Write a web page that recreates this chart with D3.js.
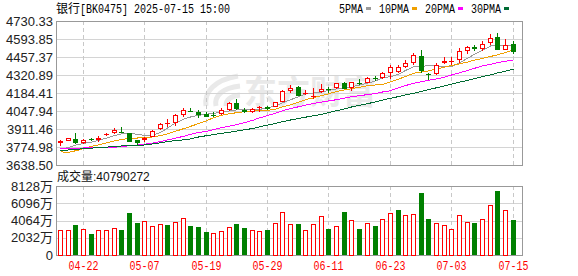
<!DOCTYPE html>
<html>
<head>
<meta charset="utf-8">
<script src="https://cdn.jsdelivr.net/npm/d3@7"></script>
<style>
  body { margin: 0; background: #fff; }
  svg { display: block; }
  .date-label { fill: #ff0000; }
</style>
</head>
<body>
<div id="chart"></div>
<script>
// trading days 2025-04-17 .. 2025-07-15
const dates = [
  '04-17', '04-18', '04-21', '04-22', '04-23', '04-24', '04-25', '04-28', '04-29', '04-30',
  '05-06', '05-07', '05-08', '05-09', '05-12', '05-13', '05-14', '05-15', '05-16', '05-19',
  '05-20', '05-21', '05-22', '05-23', '05-26', '05-27', '05-28', '05-29', '05-30', '06-03',
  '06-04', '06-05', '06-06', '06-09', '06-10', '06-11', '06-12', '06-13', '06-16', '06-17',
  '06-18', '06-19', '06-20', '06-23', '06-24', '06-25', '06-26', '06-27', '06-30', '07-01',
  '07-02', '07-03', '07-04', '07-07', '07-08', '07-09', '07-10', '07-11', '07-14', '07-15',
];
const open = [
  3803.0, 3820.5, 3833.4, 3805.3, 3835.7, 3825.8, 3866.0, 3878.8, 3891.0, 3878.8,
  3828.1, 3828.1, 3853.1, 3909.2, 3950.1, 3959.2, 4017.6, 4044.2, 4042.7, 4023.0,
  4019.1, 4025.2, 4055.5, 4106.3, 4055.5, 4038.1, 4071.4, 4080.5, 4080.5, 4118.4,
  4201.9, 4232.2, 4185.2, 4159.4, 4194.3, 4214.0, 4220.1, 4262.5, 4220.1, 4264.0,
  4262.5, 4297.4, 4295.9, 4333.8, 4341.4, 4379.3, 4409.6, 4462.7, 4324.7, 4328.5,
  4409.6, 4423.2, 4432.4, 4505.2, 4530.9, 4518.1, 4563.5, 4606.7, 4512.7, 4555.9,
];
const close = [
  3818.2, 3840.9, 3805.3, 3830.4, 3825.8, 3845.5, 3871.3, 3903.9, 3887.2, 3815.2,
  3803.0, 3845.5, 3896.3, 3951.7, 3953.2, 4017.6, 4055.5, 4040.4, 4017.6, 4004.7,
  4015.3, 4055.5, 4106.3, 4060.8, 4038.1, 4060.8, 4074.5, 4063.1, 4113.9, 4199.6,
  4224.6, 4161.7, 4188.2, 4161.7, 4212.5, 4211.0, 4258.0, 4214.8, 4265.5, 4260.2,
  4300.4, 4294.4, 4338.4, 4383.9, 4383.9, 4414.2, 4470.3, 4349.0, 4320.9, 4394.5,
  4427.0, 4426.3, 4500.6, 4530.9, 4520.3, 4555.9, 4601.4, 4512.7, 4550.6, 4493.0,
];
const high = [
  3824.3, 3847.0, 3883.4, 3835.7, 3840.9, 3858.4, 3878.8, 3916.8, 3924.4, 3881.2,
  3831.8, 3853.1, 3906.2, 3957.0, 3985.0, 4025.2, 4068.4, 4068.4, 4055.5, 4042.7,
  4042.7, 4068.4, 4112.4, 4136.6, 4073.0, 4068.4, 4085.9, 4089.6, 4118.4, 4207.2,
  4245.1, 4237.5, 4207.2, 4220.1, 4252.7, 4232.2, 4264.0, 4267.8, 4271.6, 4288.3,
  4305.7, 4313.3, 4343.7, 4396.8, 4396.8, 4434.7, 4485.5, 4512.7, 4336.1, 4411.9,
  4455.1, 4455.1, 4525.6, 4537.0, 4550.6, 4576.4, 4631.8, 4639.3, 4593.8, 4576.4,
];
const low = [
  3782.5, 3816.7, 3801.5, 3801.5, 3822.0, 3810.6, 3856.1, 3871.3, 3883.4, 3812.9,
  3790.2, 3815.2, 3850.8, 3903.9, 3928.9, 3934.2, 4000.2, 4038.1, 3992.6, 4000.2,
  4000.2, 4017.6, 4051.7, 4057.0, 4030.5, 4030.5, 4038.1, 4059.3, 4076.7, 4114.7,
  4182.1, 4157.9, 4169.3, 4136.6, 4182.1, 4186.7, 4216.3, 4211.0, 4201.9, 4245.1,
  4258.0, 4277.7, 4292.1, 4290.6, 4333.8, 4371.7, 4396.8, 4336.1, 4285.3, 4323.2,
  4405.8, 4399.0, 4411.9, 4480.2, 4500.6, 4505.2, 4550.6, 4510.4, 4508.9, 4480.2,
];
const ma5 = [
  3760.6, 3769.7, 3789.4, 3802.3, 3812.1, 3825.0, 3842.5, 3861.4, 3874.3, 3877.4,
  3872.1, 3863.0, 3864.5, 3885.7, 3918.3, 3957.0, 3985.8, 4002.4, 4014.6, 4023.7,
  4029.7, 4038.8, 4047.9, 4056.3, 4059.3, 4059.3, 4060.0, 4072.2, 4086.6, 4110.1,
  4132.9, 4156.4, 4177.6, 4184.4, 4192.8, 4203.4, 4214.8, 4224.6, 4232.2, 4243.6,
  4258.7, 4276.2, 4298.9, 4308.8, 4325.5, 4355.0, 4383.9, 4387.6, 4390.7, 4388.4,
  4385.4, 4383.9, 4411.9, 4448.3, 4477.1, 4507.4, 4540.8, 4540.8, 4541.5, 4543.0,
];
const ma10 = [
  3738.6, 3734.1, 3746.2, 3762.1, 3779.5, 3790.9, 3806.1, 3820.5, 3833.4, 3838.7,
  3843.2, 3847.0, 3850.8, 3861.4, 3874.3, 3894.0, 3913.7, 3931.2, 3952.4, 3974.4,
  3996.4, 4016.1, 4026.7, 4035.1, 4042.7, 4048.7, 4049.5, 4052.5, 4061.6, 4079.0,
  4095.0, 4114.7, 4133.6, 4148.0, 4164.7, 4178.4, 4195.0, 4207.9, 4217.0, 4227.7,
  4239.8, 4245.1, 4248.1, 4269.4, 4289.8, 4309.5, 4333.8, 4342.9, 4352.0, 4366.4,
  4380.8, 4393.7, 4405.1, 4418.7, 4433.9, 4446.8, 4461.2, 4474.1, 4491.5, 4510.5,
];
const ma20 = [
  3765.2, 3765.9, 3766.6, 3767.4, 3768.2, 3768.9, 3769.7, 3772.7, 3778.8, 3784.1,
  3789.4, 3796.2, 3804.6, 3816.0, 3828.1, 3841.7, 3856.1, 3870.5, 3884.9, 3893.3,
  3906.9, 3921.3, 3933.4, 3944.9, 3959.2, 3976.7, 3995.6, 4013.1, 4031.3, 4049.5,
  4066.9, 4079.8, 4092.7, 4104.8, 4115.4, 4124.5, 4133.6, 4145.7, 4156.4, 4164.0,
  4172.3, 4180.6, 4192.0, 4201.9, 4223.9, 4240.5, 4258.0, 4269.4, 4280.7, 4291.3,
  4304.2, 4320.9, 4337.6, 4354.3, 4371.7, 4389.9, 4402.1, 4415.0, 4424.8, 4434.7,
];
const ma30 = [
  3746.9, 3752.3, 3756.8, 3762.1, 3766.6, 3770.4, 3774.2, 3778.0, 3782.6, 3784.9,
  3787.9, 3790.2, 3797.8, 3806.9, 3816.7, 3823.5, 3828.8, 3836.4, 3850.8, 3860.7,
  3869.0, 3878.9, 3887.2, 3895.6, 3906.2, 3914.5, 3927.4, 3941.1, 3954.0, 3966.8,
  3979.7, 3990.4, 4001.0, 4011.6, 4022.2, 4035.8, 4050.2, 4063.9, 4078.3, 4090.4,
  4103.3, 4117.0, 4130.6, 4144.3, 4157.2, 4170.0, 4182.2, 4195.8, 4210.2, 4223.9,
  4238.3, 4251.9, 4266.3, 4280.0, 4294.4, 4308.0, 4322.4, 4336.1, 4350.5, 4364.1,
];
// volume in 万 (10k)
const volume = [
  2945, 2945, 3534, 3027, 2474, 2945, 2945, 3141, 2945, 4986,
  3809, 4005, 3416, 3652, 3534, 3887, 4319, 3416, 3298, 2749,
  2592, 2827, 3298, 3652, 3181, 2945, 2827, 2945, 3770, 5065,
  3652, 3652, 2945, 3652, 4594, 3063, 3416, 5065, 4123, 3063,
  3730, 3416, 4201, 4908, 5301, 4712, 4830, 7343, 4241, 3770,
  3534, 3063, 4712, 3887, 3809, 4241, 5890, 7579, 5301, 4079.0272,
];
// 1 = red bar, -1 = green bar
const volDir = [
  1, 1, -1, 1, -1, 1, 1, 1, -1, -1,
  -1, 1, 1, 1, -1, 1, 1, -1, -1, -1,
  1, 1, 1, -1, -1, 1, 1, -1, 1, 1,
  1, -1, 1, 1, 1, -1, 1, -1, 1, -1,
  1, -1, 1, 1, -1, 1, 1, -1, -1, 1,
  1, 1, 1, 1, -1, 1, 1, -1, 1, -1,
];
const priceTicks = [3638.50, 3774.98, 3911.46, 4047.94, 4184.41, 4320.89, 4457.37, 4593.85, 4730.33];
const volTicks = [0, 2032, 4064, 6096, 8128];
const dateTicks = ['04-22', '05-07', '05-19', '05-29', '06-11', '06-23', '07-03', '07-15'];
const maNames = ['5PMA', '10PMA', '20PMA', '30PMA'];
const maSeries = [ma5, ma10, ma20, ma30];

const W = 578;
const H = 276;
const plotL = 56;
const plotR = 522;
const priceTop = 21;
const priceBottom = 165;
const volTop = 186;
const volBottom = 255;

const UP = '#ff0000';
const DOWN = '#008000';
const GRID = '#d4d4d4';
const FRAME = '#999999';
const maColors = ['#9a9a9a', '#f0a000', '#ff00ff', '#006b33'];
const MONO = "'Liberation Mono', monospace";
const SANS = "'Liberation Sans', 'Noto Sans CJK SC', sans-serif";

const svg = d3.select('#chart')
  .append('svg')
  .attr('width', W)
  .attr('height', H);

const x = d3.scaleBand().domain(dates).range([56.7, 516.9]);
const cx = (i) => Math.floor(x(dates[i]) + x.bandwidth() / 2) + 0.5;
const y = d3.scaleLinear().domain([3638.50, 4730.33]).range([priceBottom, priceTop]);
const yv = d3.scaleLinear().domain([0, 8128]).range([volBottom, volTop]);
const px = (v) => Math.round(v) + 0.5;

// watermark
const wm = svg.append('g').attr('fill', 'none').attr('stroke', '#e9e9e9').attr('stroke-width', 5);
wm.append('path').attr('d', 'M206,106 C204,92 214,80 238,76');
wm.append('path').attr('d', 'M216,106 C214,96 222,88 240,86');
wm.append('path').attr('d', 'M226,106 C226,100 230,96 240,95');
svg.append('text')
  .attr('x', 244)
  .attr('y', 104)
  .attr('font-family', "'Noto Sans CJK SC'")
  .attr('font-weight', 'bold')
  .attr('font-size', 33)
  .attr('fill', '#e9e9e9')
  .text('东方财富');

// grids and frames
const drawPanel = (scale, ticks, top, bottom) => {
  const g = svg.append('g').attr('shape-rendering', 'crispEdges');
  g.selectAll('line.h')
    .data(ticks.slice(1, -1))
    .enter()
    .append('line')
    .attr('x1', plotL)
    .attr('x2', plotR)
    .attr('y1', (d) => px(scale(d)))
    .attr('y2', (d) => px(scale(d)))
    .attr('stroke', GRID);
  g.selectAll('line.v')
    .data(dateTicks)
    .enter()
    .append('line')
    .attr('x1', (d) => cx(dates.indexOf(d)))
    .attr('x2', (d) => cx(dates.indexOf(d)))
    .attr('y1', top)
    .attr('y2', bottom)
    .attr('stroke', '#c8c8c8')
    .attr('stroke-dasharray', '4,3');
  g.append('rect')
    .attr('x', plotL + 0.5)
    .attr('y', top + 0.5)
    .attr('width', plotR - plotL)
    .attr('height', bottom - top)
    .attr('fill', 'none')
    .attr('stroke', FRAME);
};
drawPanel(y, priceTicks, priceTop, priceBottom);
drawPanel(yv, volTicks, volTop, volBottom);

// moving averages (under the candles)
const line = d3.line().x((v, i) => cx(i)).y((v) => y(v));
svg.append('g')
  .attr('shape-rendering', 'crispEdges')
  .selectAll('path')
  .data(maSeries)
  .enter()
  .append('path')
  .attr('d', line)
  .attr('fill', 'none')
  .attr('stroke', (d, i) => maColors[i])
  .attr('stroke-width', 1);

// candles
const candles = svg.append('g').attr('shape-rendering', 'crispEdges');
candles.selectAll('g')
  .data(d3.range(dates.length))
  .enter()
  .append('g')
  .each(function (i) {
    const g = d3.select(this);
    const up = close[i] >= open[i];
    const col = up ? UP : DOWN;
    const c = cx(i);
    const top = Math.round(y(Math.max(open[i], close[i])));
    const bot = Math.round(y(Math.min(open[i], close[i])));
    g.append('line')
      .attr('x1', c).attr('x2', c)
      .attr('y1', Math.round(y(high[i])))
      .attr('y2', Math.round(y(low[i])))
      .attr('stroke', col);
    if (bot - top < 2) {
      g.append('line')
        .attr('x1', c - 2.5).attr('x2', c + 2.5)
        .attr('y1', top + 0.5).attr('y2', top + 0.5)
        .attr('stroke', col);
    } else if (up) {
      g.append('rect')
        .attr('x', c - 2).attr('y', top + 0.5)
        .attr('width', 4).attr('height', bot - top - 1)
        .attr('fill', '#fff')
        .attr('stroke', col);
    } else {
      g.append('rect')
        .attr('x', c - 2.5).attr('y', top)
        .attr('width', 5).attr('height', bot - top)
        .attr('fill', col);
    }
  });

// volume bars
svg.append('g')
  .attr('shape-rendering', 'crispEdges')
  .selectAll('rect')
  .data(volume)
  .enter()
  .append('rect')
  .attr('x', (d, i) => (volDir[i] > 0 ? cx(i) - 2 : cx(i) - 2.5))
  .attr('y', (d, i) => (volDir[i] > 0 ? Math.round(yv(d)) + 0.5 : Math.round(yv(d))))
  .attr('width', (d, i) => (volDir[i] > 0 ? 4 : 5))
  .attr('height', (d, i) => volBottom - Math.round(yv(d)) - (volDir[i] > 0 ? 0.5 : 0))
  .attr('fill', (d, i) => (volDir[i] > 0 ? '#fff' : DOWN))
  .attr('stroke', (d, i) => (volDir[i] > 0 ? UP : 'none'));

// axes
const styleAxis = (g) => {
  g.select('.domain').remove();
  g.attr('color', '#222');
  g.selectAll('text')
    .attr('font-family', SANS)
    .attr('font-size', 13)
    .attr('fill', '#222');
};
svg.append('g')
  .attr('transform', `translate(${plotL},0)`)
  .call(d3.axisLeft(y).tickValues(priceTicks).tickSize(0).tickPadding(3).tickFormat(d3.format('.2f')))
  .call(styleAxis);
svg.append('g')
  .attr('transform', `translate(${plotL},0)`)
  .call(d3.axisLeft(yv).tickValues(volTicks).tickSize(0).tickPadding(3).tickFormat((d) => (d === 0 ? '0' : `${d}万`)))
  .call(styleAxis);

// date labels in red under the volume panel
svg.append('g')
  .selectAll('text')
  .data(dateTicks)
  .enter()
  .append('text')
  .attr('class', 'date-label')
  .attr('x', (d) => cx(dates.indexOf(d)))
  .attr('y', 270)
  .attr('text-anchor', 'middle')
  .attr('font-family', MONO)
  .attr('font-size', 12)
  .attr('fill', UP)
  .attr('textLength', 30)
  .attr('lengthAdjust', 'spacingAndGlyphs')
  .text((d) => d);

// title
svg.append('text')
  .attr('x', 56)
  .attr('y', 13)
  .attr('font-family', "'Noto Sans CJK SC'")
  .attr('font-size', 12)
  .text('银行');
svg.append('text')
  .attr('x', 80)
  .attr('y', 13)
  .attr('font-family', MONO)
  .attr('font-size', 12)
  .attr('textLength', 150)
  .attr('lengthAdjust', 'spacingAndGlyphs')
  .text('[BK0475] 2025-07-15 15:00');

// legend
let lx = 339;
maNames.forEach((name, i) => {
  const w = name.length * 6;
  svg.append('text')
    .attr('x', lx)
    .attr('y', 13)
    .attr('font-family', MONO)
    .attr('font-size', 12)
    .attr('textLength', w)
    .attr('lengthAdjust', 'spacingAndGlyphs')
    .text(name);
  svg.append('rect')
    .attr('x', lx + w + 3)
    .attr('y', 7)
    .attr('width', 5)
    .attr('height', 3)
    .attr('fill', maColors[i]);
  lx += w + 16;
});

// volume caption
svg.append('text')
  .attr('x', 57)
  .attr('y', 181)
  .attr('font-family', SANS)
  .attr('font-size', 12)
  .attr('fill', '#111')
  .text(`成交量:${Math.round(volume[volume.length - 1] * 10000)}`);
</script>
</body>
</html>
